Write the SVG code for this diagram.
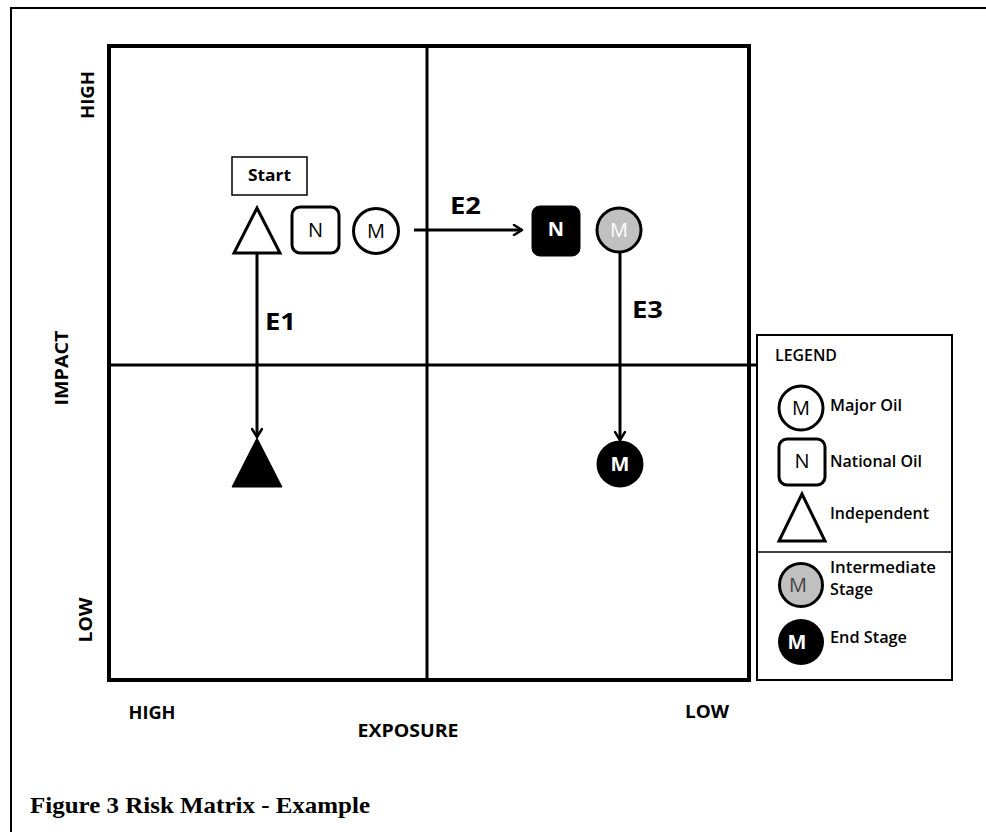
<svg xmlns="http://www.w3.org/2000/svg" width="986" height="832" viewBox="0 0 986 832">
<style>
.lbl{font-family:"Open Sans","Liberation Sans",sans-serif;font-weight:bold;fill:#000}
.ax{font-size:17px}
.e{font-size:24px}
.leg{font-size:16px;font-family:"Open Sans","Liberation Sans",sans-serif;font-weight:600}
.sym{fill:#fff;stroke:#000;stroke-width:3}
.glyph{font-family:"Open Sans","Liberation Sans",sans-serif;font-size:20px;text-anchor:middle}
.conn{stroke:#000;stroke-width:3;fill:none}
</style>
<defs>
<marker id="arr" viewBox="0 0 12 12" refX="10" refY="6" markerWidth="12" markerHeight="12" markerUnits="userSpaceOnUse" orient="auto">
<path d="M2,1 L10,6 L2,11" fill="none" stroke="#000" stroke-width="2.5" stroke-linecap="round" stroke-linejoin="round"/>
</marker>
</defs>
<rect width="986" height="832" fill="#fff"/>
<path d="M11,832 V8 H986" fill="none" stroke="#000" stroke-width="2"/>
<g id="matrix">
<rect x="109" y="46" width="640" height="634" fill="none" stroke="#000" stroke-width="4"/>
<line x1="427" y1="46" x2="427" y2="680" stroke="#000" stroke-width="3"/>
<line x1="109" y1="365" x2="757" y2="365" stroke="#000" stroke-width="3"/>
</g>
<g id="axes">
<text class="lbl ax" transform="translate(94,95) rotate(-90)" text-anchor="middle" textLength="48" lengthAdjust="spacingAndGlyphs">HIGH</text>
<text class="lbl ax" transform="translate(68,368) rotate(-90)" text-anchor="middle" textLength="75" lengthAdjust="spacingAndGlyphs">IMPACT</text>
<text class="lbl ax" transform="translate(92,620) rotate(-90)" text-anchor="middle" textLength="45" lengthAdjust="spacingAndGlyphs">LOW</text>
<text class="lbl ax" x="152" y="719" text-anchor="middle" textLength="47" lengthAdjust="spacingAndGlyphs">HIGH</text>
<text class="lbl ax" x="408" y="737" text-anchor="middle" textLength="101" lengthAdjust="spacingAndGlyphs">EXPOSURE</text>
<text class="lbl ax" x="707" y="718" text-anchor="middle" textLength="44" lengthAdjust="spacingAndGlyphs">LOW</text>
</g>
<g id="start">
<rect x="232" y="157" width="75" height="38" fill="#fff" stroke="#000" stroke-width="1.5"/>
<text class="lbl" x="269.5" y="181" font-size="16" text-anchor="middle" textLength="43" lengthAdjust="spacingAndGlyphs">Start</text>
</g>
<g id="independent-start">
<polygon class="sym" points="257,208 234,253 280,253"/>
</g>
<g id="national-start">
<rect class="sym" x="292" y="207" width="47" height="46" rx="8"/>
<text class="glyph" x="315.5" y="237">N</text>
</g>
<g id="major-start">
<circle class="sym" cx="376" cy="231" r="22.5"/>
<text class="glyph" x="376" y="238">M</text>
</g>
<g id="national-end">
<rect x="532" y="206" width="48" height="50" rx="8" fill="#000" stroke="#000" stroke-width="1"/>
<text class="glyph" x="556" y="236" fill="#fff" font-weight="bold" font-size="18">N</text>
</g>
<g id="major-intermediate">
<circle cx="619" cy="230" r="22" fill="#c0c0c0" stroke="#000" stroke-width="3"/>
<text class="glyph" x="619" y="237" fill="#fff">M</text>
</g>
<g id="independent-end">
<polygon points="257,438 232,487 282,487" fill="#000" stroke="#000" stroke-width="1"/>
</g>
<g id="major-end">
<circle cx="620" cy="464" r="23.5" fill="#000"/>
<text class="glyph" x="620" y="471" fill="#fff" font-weight="bold" font-size="19">M</text>
</g>
<g id="connectors">
<line class="conn" x1="257" y1="253" x2="257" y2="437" marker-end="url(#arr)"/>
<line class="conn" x1="414" y1="230" x2="522" y2="230" marker-end="url(#arr)"/>
<line class="conn" x1="620" y1="252" x2="620" y2="440" marker-end="url(#arr)"/>
<text class="lbl e" x="265" y="330" textLength="31" lengthAdjust="spacingAndGlyphs">E1</text>
<text class="lbl e" x="450" y="214" textLength="31" lengthAdjust="spacingAndGlyphs">E2</text>
<text class="lbl e" x="632" y="318" textLength="31" lengthAdjust="spacingAndGlyphs">E3</text>
</g>
<g id="legend">
<rect x="757" y="335" width="195" height="345" fill="#fff" stroke="#000" stroke-width="2"/>
<line x1="757" y1="552" x2="952" y2="552" stroke="#000" stroke-width="1.5"/>
<text class="leg" x="775" y="361" font-size="14" font-weight="normal" textLength="62" lengthAdjust="spacingAndGlyphs">LEGEND</text>
<circle class="sym" cx="801" cy="408" r="22"/>
<text class="glyph" x="801" y="415">M</text>
<text class="leg" x="830" y="411" textLength="72" lengthAdjust="spacingAndGlyphs">Major Oil</text>
<rect class="sym" x="779" y="439" width="46" height="46" rx="8"/>
<text class="glyph" x="802" y="468">N</text>
<text class="leg" x="830" y="467" textLength="92" lengthAdjust="spacingAndGlyphs">National Oil</text>
<polygon class="sym" points="802,494 779,541 825,541"/>
<text class="leg" x="830" y="519" textLength="99" lengthAdjust="spacingAndGlyphs">Independent</text>
<circle cx="801" cy="585" r="21.5" fill="#c0c0c0" stroke="#000" stroke-width="3"/>
<text class="glyph" x="798" y="592" fill="#444">M</text>
<text class="leg" x="830" y="573" textLength="106" lengthAdjust="spacingAndGlyphs">Intermediate</text>
<text class="leg" x="830" y="595" textLength="43" lengthAdjust="spacingAndGlyphs">Stage</text>
<circle cx="801" cy="642" r="23" fill="#000"/>
<text class="glyph" x="797" y="649" fill="#fff" font-weight="bold" font-size="19">M</text>
<text class="leg" x="830" y="643" textLength="77" lengthAdjust="spacingAndGlyphs">End Stage</text>
</g>
<text x="30" y="813" font-family="'Liberation Serif',serif" font-weight="bold" font-size="23" textLength="340" lengthAdjust="spacingAndGlyphs">Figure 3 Risk Matrix - Example</text>
</svg>
